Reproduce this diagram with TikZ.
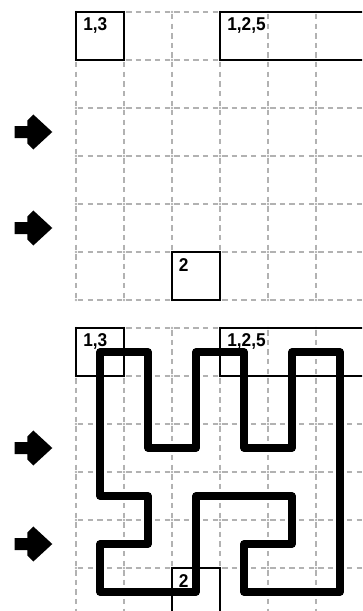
\documentclass[tikz,border=0pt]{standalone}
\usepackage{fontspec}
\newfontfamily\labfont[FakeStretch=0.93]{Liberation Sans}
\begin{document}
\begin{tikzpicture}[x=1cm,y=1cm,
  gridline/.style={draw=gray!60, line width=0.7pt, dash pattern=on 3.2pt off 2.4905pt, dash phase=4.445pt},
  gdot/.style={fill=gray!60},
  cluebox/.style={draw=black, line width=1.4pt},
  cluelabel/.style={font=\labfont\bfseries\fontsize{11}{13}\selectfont, anchor=north west, inner sep=0pt},
  pointer/.style={fill=black},
  loopline/.style={draw=black, line width=4.4pt, line join=round}]
\useasboundingbox (-1.5833,0.25) rectangle (5.9583,-12.479);
\clip (-1.5833,0.25) rectangle (5.9583,-12.479);
\foreach \o/\w/\n in {0/1.4pt/a, 6.5833/0.9pt/b}{
  \begin{scope}[yshift=-\o cm]
    \foreach \j in {0,...,6}{\path[gridline] (0,-\j) -- (6,-\j);}
    \foreach \i in {0,...,5}{\path[gridline] (\i,0) -- (\i,-6);}
    \foreach \i in {0,...,6}{\foreach \j in {0,...,6}{\fill[gdot] (\i,-\j) circle (0.8pt);}}
    \draw[cluebox, line width=\w] (0,0) rectangle (1,-1);
    \draw[cluebox, line width=\w] (3,0) rectangle (7,-1);
    \draw[cluebox, line width=\w] (2,-5) rectangle (3,-6);
    \node[cluelabel] (l13\n) at (0.145,-0.11) {1,3};
    \node[cluelabel] (l125\n) at (3.145,-0.11) {1,2,5};
    \node[cluelabel] (l2\n) at (2.135,-5.12) {2};
    \foreach \r in {2.5,4.5}{
      \fill[pointer] (-1.277,-\r+0.125) -- (-1.0104,-\r+0.125) -- (-1.0104,-\r+0.24)
        -- (-0.8896,-\r+0.365) -- (-0.494,-\r) -- (-0.8896,-\r-0.365)
        -- (-1.0104,-\r-0.24) -- (-1.0104,-\r-0.125) -- (-1.277,-\r-0.125) -- cycle;
    }
  \end{scope}
}
\begin{scope}[shift={(0.5,-7.0833)}, y=-1cm]
  \draw[loopline] (0,0) -- (1,0) -- (1,2) -- (2,2) -- (2,0) -- (3,0) -- (3,2) -- (4,2)
    -- (4,0) -- (5,0) -- (5,5) -- (3,5) -- (3,4) -- (4,4) -- (4,3) -- (2,3) -- (2,5)
    -- (0,5) -- (0,4) -- (1,4) -- (1,3) -- (0,3) -- cycle;
\end{scope}
\end{tikzpicture}
\end{document}
